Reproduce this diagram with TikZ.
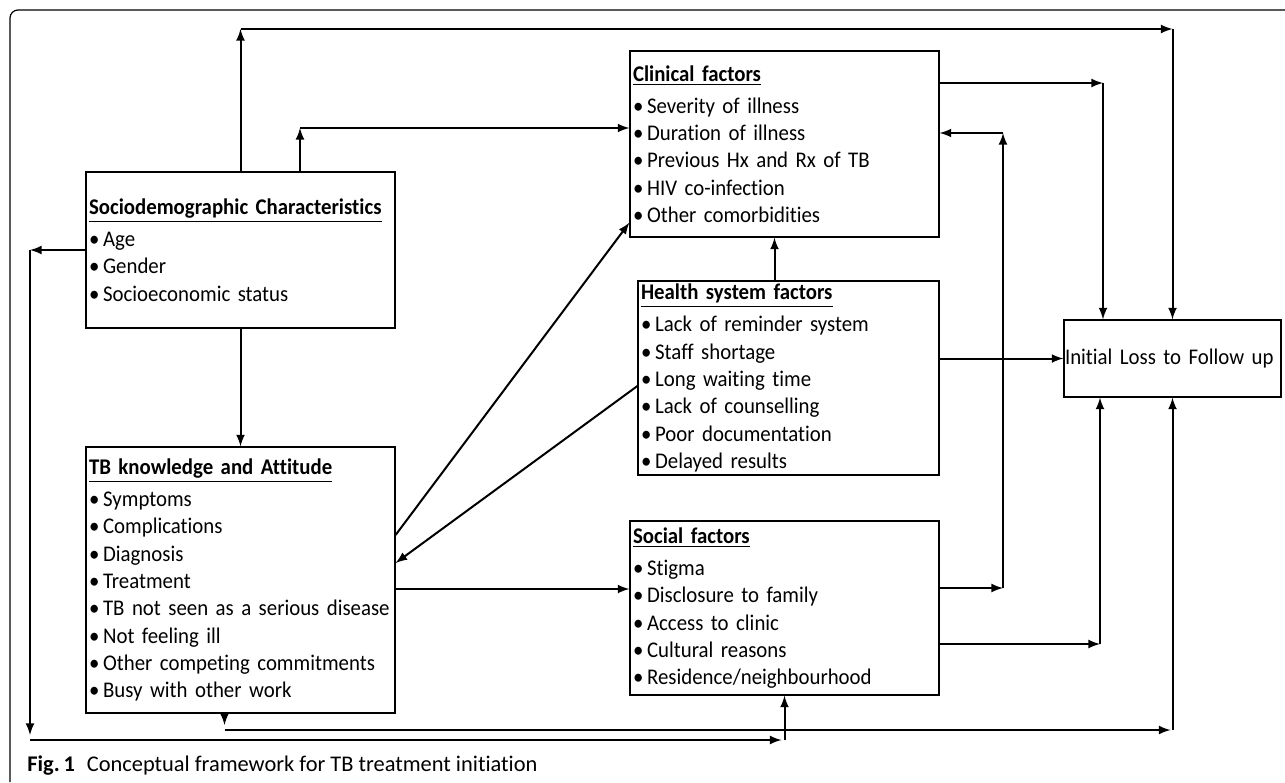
\documentclass[tikz,border=0pt]{standalone}
\usepackage{fontspec}
\setmainfont{Carlito}[Ligatures=NoCommon, FakeStretch=0.93, WordSpace=0.85]
\newfontfamily\capfont{Carlito}[Ligatures=NoCommon]
\usepackage{tikz}
\tikzset{every picture/.style={x=0.5pt,y=-0.5pt}, >=latex}
\tikzset{
  factorbox/.style={draw, line width=0.6pt, align=left, inner xsep=1.5pt, inner ysep=0pt,
    font=\fontsize{11.2}{13.65}\selectfont},
  link/.style={line width=1pt},
  frameline/.style={line width=0.6pt, rounded corners=4pt}
}
\newcommand{\itm}[1]{\mbox{\textbullet\,#1}}
\newcommand{\hd}[1]{\underline{\textbf{#1}}\\[2.5pt]}

\begin{document}
\begin{tikzpicture}
    \useasboundingbox (0,0) rectangle (1285,782);
    \draw[frameline] (10,782) -- (10,10) -- (1285,10);

    % Boxes
    \node[factorbox, text width=151.5pt, minimum height=78pt] (socio) at (240.5,250)
        {\hd{Sociodemographic Characteristics}\itm{Age}\\\itm{Gender}\\\itm{Socioeconomic status}};
    \node[factorbox, text width=151.5pt, minimum height=133pt] (tb) at (240.5,580)
        {\hd{TB knowledge and Attitude}\itm{Symptoms}\\\itm{Complications}\\\itm{Diagnosis}\\\itm{Treatment}\\
         \itm{TB not seen as a serious disease}\\\itm{Not feeling ill}\\\itm{Other competing commitments}\\\itm{Busy with other work}};
    \node[factorbox, text width=151.5pt, minimum height=93pt] (clin) at (784.5,144)
        {\hd{Clinical factors}\itm{Severity of illness}\\\itm{Duration of illness}\\\itm{Previous Hx and Rx of TB}\\
         \itm{HIV co-infection}\\\itm{Other comorbidities}};
    \node[factorbox, text width=147.5pt, minimum height=97pt] (health) at (788.5,378)
        {\hd{Health system factors}\itm{Lack of reminder system}\\\itm{Staff shortage}\\\itm{Long waiting time}\\
         \itm{Lack of counselling}\\\itm{Poor documentation}\\\itm{Delayed results}};
    \node[factorbox, text width=151.5pt, minimum height=87pt] (soc) at (784.5,608)
        {\hd{Social factors}\itm{Stigma}\\\itm{Disclosure to family}\\\itm{Access to clinic}\\
         \itm{Cultural reasons}\\\itm{Residence/neighbourhood}};
    \node[factorbox, inner xsep=0.5pt, text width=107.5pt, minimum height=38.5pt] (lfu) at (1172.5,358.5)
        {Initial Loss to Follow up\\[2pt]};

    \node[anchor=west, inner sep=0pt, font=\capfont\fontsize{11.2}{13}\selectfont] (cap) at (27,766)
        {\textbf{Fig.\,1}\hspace{6pt}Conceptual framework for TB treatment initiation};

    % Route helpers
    \coordinate (toprow) at (0,29);
    \coordinate (midrow) at (0,730);
    \coordinate (botrow) at (0,740);
    \coordinate (leftcol) at (30,0);
    \coordinate (s2) at ([xshift=29.75pt]socio.north);
    \coordinate (c2) at ([yshift=8pt]clin.west);
    \coordinate (c3) at ([yshift=30.5pt]clin.east);
    \coordinate (c4) at ([yshift=5.5pt]clin.east);
    \coordinate (t2) at ([xshift=-8pt]tb.south);
    \coordinate (t3) at ([yshift=-4.5pt]tb.east);
    \coordinate (o1) at ([yshift=10pt]soc.east);
    \coordinate (o2) at ([yshift=-18pt]soc.east);
    \coordinate (col1) at (1003,0);
    \coordinate (col2) at (1103,0);
    \coordinate (col3) at (1100,0);

    % Sociodemographic links
    \draw[link,->] (socio.north) -- (socio.north |- toprow);
    \draw[link,->] (socio.north |- toprow) -- (lfu.north |- toprow);
    \draw[link,->] (lfu.north |- toprow) -- (lfu.north);
    \draw[link,->] (s2) -- (s2 |- c2);
    \draw[link,->] (s2 |- c2) -- (c2);
    \draw[link,->] (socio.south) -- (tb.north);
    \draw[link,->] (socio.west) -- (leftcol |- socio.west);
    \draw[link,->] (leftcol |- socio.west) -- ([yshift=2.5pt]leftcol |- botrow);
    \draw[link,->] (leftcol |- botrow) -- ([xshift=-1.5pt]soc.south |- botrow);
    \draw[link,->] (soc.south |- botrow) -- (soc.south);

    % TB knowledge links
    \draw[link,->] ([yshift=22.5pt]tb.east) -- ([yshift=7.5pt]clin.south west);
    \draw[link,->] (t3) -- (soc.west |- t3);
    \draw[link,->] (tb.south -| t2) -- ([yshift=2.5pt]t2 |- midrow);
    \draw[link,->] (t2 |- midrow) -- ([xshift=-1pt]lfu.south |- midrow);
    \draw[link,->] (lfu.south |- midrow) -- (lfu.south);

    % Health system links
    \draw[link,->] ([yshift=-4pt]health.west) -- ([yshift=8.5pt]tb.east);
    \draw[link,->] ([xshift=-7pt]health.north) -- ([xshift=-7pt]health.north |- clin.south);
    \draw[link,->] (health.east |- lfu.west) -- (lfu.west);

    % Clinical and social links
    \draw[link,->] (c3) -- (col2 |- c3);
    \draw[link,->] (col2 |- c3) -- (col2 |- lfu.north);
    \draw[link,->] (o1) -- (col1 |- o1);
    \draw[link,->] (col1 |- o1) -- (col1 |- c4);
    \draw[link,->] (col1 |- c4) -- (c4);
    \draw[link,->] (o2) -- (col3 |- o2);
    \draw[link,->] (col3 |- o2) -- (col3 |- lfu.south);
\end{tikzpicture}
\end{document}
